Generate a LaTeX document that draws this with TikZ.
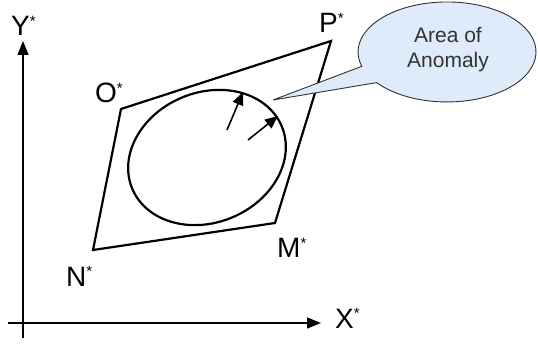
\documentclass[tikz,border=0pt]{standalone}
\usepackage{fontspec}
\setmainfont{Liberation Sans}
\usetikzlibrary{arrows.meta}
\definecolor{calloutfill}{RGB}{221,235,250}
\definecolor{calloutline}{RGB}{50,50,50}
\newcommand{\strsup}{\raisebox{9.3pt}{\fontsize{15}{15}\selectfont *}}
\begin{document}
\begin{tikzpicture}[x=1pt,y=1pt,
  axisline/.style={line width=1.4pt,-{Triangle[length=14pt,width=11pt]}},
  shapeline/.style={line width=2.2pt,line join=miter},
  innerarrow/.style={line width=1.6pt,-{Triangle[length=13pt,width=11pt]}},
  ptlabel/.style={anchor=base west,inner sep=0pt,font=\fontsize{28}{28}\selectfont},
  callout/.style={draw=calloutline,fill=calloutfill,line width=0.9pt},
  callouttext/.style={align=center,inner sep=0pt,text=black!80,font=\fontsize{21}{25}\selectfont}]
\useasboundingbox (0,0) rectangle (538,343);
% axes
\coordinate (ybot) at (23,5);
\coordinate (ytop) at (23,302);
\coordinate (xleft) at (8,20);
\coordinate (xright) at (321,20);
\draw[axisline] (ybot) -- (ytop);
\draw[axisline] (xleft) -- (xright);
\node[ptlabel] (ylab) at (11,307) {Y\strsup};
\node[ptlabel] (xlab) at (335,15) {X\strsup};
% quadrilateral
\coordinate (O) at (121,234);
\coordinate (P) at (331,302);
\coordinate (M) at (275,120);
\coordinate (N) at (93,93);
\draw[shapeline] (O) -- (P) -- (M) -- (N) -- cycle;
\node[ptlabel] (olab) at (95,240) {O\strsup};
\node[ptlabel] (plab) at (319,310) {P\strsup};
\node[ptlabel] (nlab) at (66,57) {N\strsup};
\node[ptlabel] (mlab) at (277,85) {M\strsup};
% anomaly ellipse
\coordinate (ec) at (207,185.5);
\draw[shapeline,rotate around={22.6:(ec)}] (ec) ellipse [x radius=81pt, y radius=65pt];
\coordinate (a1s) at (227,213);
\coordinate (a1e) at (243,251);
\coordinate (a2s) at (248,203);
\coordinate (a2e) at (278,227);
\draw[innerarrow] (a1s) -- (a1e);
\draw[innerarrow] (a2s) -- (a2e);
% callout
\coordinate (tip) at (273,243);
\coordinate (cb1) at (376.7,260.4);
\draw[callout] (tip) -- (cb1) arc[start angle=217.8, end angle=556.7, x radius=89pt, y radius=50pt] -- cycle;
\node[callouttext] (ctext) at (448,293) {Area of\\Anomaly};
\end{tikzpicture}
\end{document}
